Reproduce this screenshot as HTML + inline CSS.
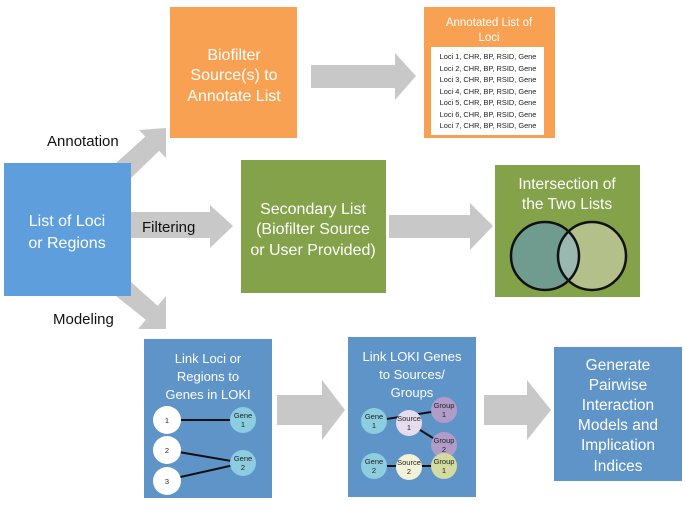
<!DOCTYPE html>
<html><head><meta charset="utf-8"><style>
html,body{margin:0;padding:0;background:#fff;}
svg{display:block;}
text{font-family:"Liberation Sans",sans-serif;}
</style></head><body>
<svg width="685" height="506" viewBox="0 0 685 506" xmlns="http://www.w3.org/2000/svg">
<g fill="#c8c8c8">
 <polygon points="311,65 395,65 395,53 416,76 395,100 395,88 311,88"/>
 <polygon points="131,212 210,212 210,205 233,226 210,248 210,238 131,238"/>
 <polygon points="389,215 470,215 470,203 493,226 470,250 470,238 389,238"/>
 <!-- annotation diagonal -->
 <polygon points="116,163 146,136 160,150 131,178"/>
 <polygon points="139,130 166,128 166,158"/>
 <!-- modeling diagonal -->
 <polygon points="131,282 160,308 146,320 116,296"/>
 <polygon points="166,296 166,329 138,329"/>
 <polygon points="277,395 322,395 322,380 345,410 322,440 322,425 277,425"/>
 <polygon points="484,395 527,395 527,380 551,410 527,440 527,425 484,425"/>
</g>
<rect x="170" y="7" width="127" height="131" fill="#f9a153"/>
<g fill="#fff" font-size="16" text-anchor="middle">
 <text x="234" y="60">Biofilter</text>
 <text x="234" y="80">Source(s) to</text>
 <text x="234" y="101">Annotate List</text>
</g>
<rect x="424" y="7" width="131" height="131" fill="#f9a153"/>
<g fill="#fff" font-size="11.5" text-anchor="middle">
 <text x="489" y="26">Annotated List of</text>
 <text x="489" y="41">Loci</text>
</g>
<rect x="431" y="47" width="113" height="88" fill="#fff"/>
<g fill="#222" font-size="7.4" text-anchor="middle">
 <text x="488" y="59">Loci 1, CHR, BP, RSID, Gene</text>
 <text x="488" y="71">Loci 2, CHR, BP, RSID, Gene</text>
 <text x="488" y="82">Loci 3, CHR, BP, RSID, Gene</text>
 <text x="488" y="94">Loci 4, CHR, BP, RSID, Gene</text>
 <text x="488" y="105">Loci 5, CHR, BP, RSID, Gene</text>
 <text x="488" y="117">Loci 6, CHR, BP, RSID, Gene</text>
 <text x="488" y="128">Loci 7, CHR, BP, RSID, Gene</text>
</g>
<rect x="4" y="163" width="127" height="133" fill="#5e9edc"/>
<g fill="#fff" font-size="16" text-anchor="middle">
 <text x="67" y="226">List of Loci</text>
 <text x="67" y="248">or Regions</text>
</g>
<g fill="#111" font-size="15">
 <text x="47" y="146">Annotation</text>
 <text x="142" y="232">Filtering</text>
 <text x="53" y="324">Modeling</text>
</g>
<rect x="241" y="160" width="145" height="133" fill="#83a24a"/>
<g fill="#fff" font-size="16" text-anchor="middle">
 <text x="313" y="214">Secondary List</text>
 <text x="313" y="234">(Biofilter Source</text>
 <text x="313" y="255">or User Provided)</text>
</g>
<rect x="495" y="165" width="145" height="132" fill="#83a24a"/>
<g fill="#fff" font-size="15.5" text-anchor="middle">
 <text x="567" y="189">Intersection of</text>
 <text x="567" y="209">the Two Lists</text>
</g>
<circle cx="545" cy="256" r="34" fill="#6f9c8e"/>
<circle cx="592" cy="256" r="34" fill="#b4c089"/>
<clipPath id="cl"><circle cx="545" cy="256" r="34"/></clipPath>
<circle cx="592" cy="256" r="34" fill="#9ab8b0" clip-path="url(#cl)"/>
<circle cx="545" cy="256" r="34" fill="none" stroke="#111" stroke-width="2.5"/>
<circle cx="592" cy="256" r="34" fill="none" stroke="#111" stroke-width="2.5"/>
<rect x="144" y="339" width="128" height="159" fill="#5f94c9"/>
<g fill="#fff" font-size="13" text-anchor="middle">
 <text x="208" y="363">Link Loci or</text>
 <text x="208" y="381">Regions to</text>
 <text x="208" y="399">Genes in LOKI</text>
</g>
<g stroke="#111" stroke-width="2">
 <line x1="167" y1="420" x2="243" y2="420"/>
 <line x1="167" y1="450" x2="243" y2="463"/>
 <line x1="167" y1="480" x2="243" y2="463"/>
</g>
<g fill="#fff"><circle cx="167" cy="420" r="14"/><circle cx="167" cy="450" r="14"/><circle cx="167" cy="481" r="14"/></g>
<g fill="#8ccde0"><circle cx="243" cy="420" r="13"/><circle cx="243" cy="463" r="13"/></g>
<g fill="#222" font-size="7.5" text-anchor="middle">
 <text x="167" y="423">1</text><text x="167" y="453">2</text><text x="167" y="484">3</text>
 <text x="243" y="418">Gene</text><text x="243" y="427">1</text>
 <text x="243" y="461">Gene</text><text x="243" y="470">2</text>
</g>
<rect x="348" y="337" width="128" height="160" fill="#5f94c9"/>
<g fill="#fff" font-size="13" text-anchor="middle">
 <text x="412" y="361">Link LOKI Genes</text>
 <text x="412" y="379">to Sources/</text>
 <text x="412" y="397">Groups</text>
</g>
<g stroke="#111" stroke-width="2">
 <line x1="374" y1="421" x2="444" y2="410"/>
 <line x1="409" y1="423" x2="444" y2="445"/>
 <line x1="374" y1="466" x2="444" y2="466"/>
</g>
<circle cx="374" cy="421" r="13" fill="#8ccde0"/>
<circle cx="409" cy="423" r="13" fill="#e6dcef"/>
<circle cx="444" cy="410" r="13" fill="#b09cc9"/>
<circle cx="444" cy="445" r="13" fill="#b09cc9"/>
<circle cx="374" cy="466" r="13" fill="#8ccde0"/>
<circle cx="409" cy="467" r="13" fill="#f3f2d8"/>
<circle cx="444" cy="466" r="13" fill="#d3dba0"/>
<g fill="#222" font-size="7.5" text-anchor="middle">
 <text x="374" y="419">Gene</text><text x="374" y="428">1</text>
 <text x="409" y="421">Source</text><text x="409" y="430">1</text>
 <text x="444" y="408">Group</text><text x="444" y="417">1</text>
 <text x="444" y="443">Group</text><text x="444" y="452">2</text>
 <text x="374" y="464">Gene</text><text x="374" y="473">2</text>
 <text x="409" y="465">Source</text><text x="409" y="474">2</text>
 <text x="444" y="464">Group</text><text x="444" y="473">1</text>
</g>
<rect x="554" y="347" width="128" height="134" fill="#5f94c9"/>
<g fill="#fff" font-size="15.5" text-anchor="middle">
 <text x="618" y="370">Generate</text>
 <text x="618" y="390">Pairwise</text>
 <text x="618" y="410">Interaction</text>
 <text x="618" y="430">Models and</text>
 <text x="618" y="450">Implication</text>
 <text x="618" y="471">Indices</text>
</g>
</svg>
</body></html>
